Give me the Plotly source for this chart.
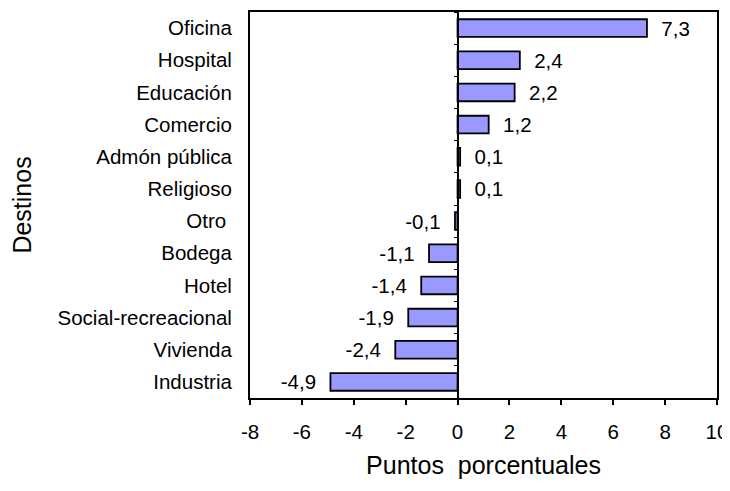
import plotly.graph_objects as go


DESTINOS = ['Oficina', 'Hospital', 'Educación', 'Comercio', 'Admón pública', 'Religioso',
            'Otro ', 'Bodega', 'Hotel', 'Social-recreacional', 'Vivienda', 'Industria']
PUNTOS = [7.3, 2.4, 2.2, 1.2, 0.1, 0.1, -0.1, -1.1, -1.4, -1.9, -2.4, -4.9]
X_TICKS = [-8, -6, -4, -2, 0, 2, 4, 6, 8, 10]

FONT = 'Liberation Sans, Arial, sans-serif'
SIZE = 20.5
NBSP = '\u00a0'

# Excel-style labels: comma decimals, padded away from the bar end
labels = [(NBSP * 2 + f'{v:.1f}'.replace('.', ',')) if v >= 0 else (f'{v:.1f}'.replace('.', ',') + NBSP * 2)
          for v in PUNTOS]

fig = go.Figure()
fig.add_trace(go.Bar(x=PUNTOS, y=DESTINOS, orientation='h', width=0.55,
                     marker=dict(color='#9999FF', line=dict(color='black', width=1.8)),
                     text=labels, textposition='outside', cliponaxis=False, constraintext='none',
                     textfont=dict(size=SIZE, color='black', family=FONT)))
# invisible copy so the zero-line axis gets the category ticks
fig.add_trace(go.Scatter(x=[0] * len(DESTINOS), y=DESTINOS, yaxis='y2', mode='markers',
                         marker=dict(opacity=0), hoverinfo='skip', showlegend=False))

# the page body adds an 8px margin, so the figure starts at (8, 8) in the window;
# keep it short enough that no scrollbar appears
fig.update_layout(
    width=722, height=472,
    margin=dict(l=242, r=13, t=4, b=82),
    plot_bgcolor='white', paper_bgcolor='white',
    font=dict(family=FONT, size=SIZE, color='black'),
    showlegend=False,
    xaxis=dict(range=[-8, 10], tickvals=X_TICKS, ticktext=[str(t) for t in X_TICKS],
               ticks='outside', ticklen=5, tickwidth=1.5,
               tickcolor='black', showgrid=False, zeroline=False,
               showline=True, linecolor='black', linewidth=2, mirror=True,
               ticklabelstandoff=9, automargin=False, ticklabeloverflow='allow',
               title=dict(text='Puntos' + NBSP * 2 + 'porcentuales', standoff=15)),
    yaxis=dict(type='category', categoryarray=DESTINOS, range=[11.5, -0.5],
               showgrid=False, zeroline=False, ticks='', ticklabelstandoff=12,
               showline=True, linecolor='black', linewidth=2, mirror=True, automargin=False,
               title=dict(text='Destinos', standoff=21)),
    yaxis2=dict(type='category', categoryarray=DESTINOS, range=[11.5, -0.5],
                overlaying='y', anchor='free', position=8 / 18, side='left',
                showline=True, linecolor='black', linewidth=1.5, automargin=False,
                ticks='outside', ticklen=3, tickwidth=1, tickcolor='black',
                tickson='boundaries', showticklabels=False, showgrid=False),
)

fig.write_html('out.html')
